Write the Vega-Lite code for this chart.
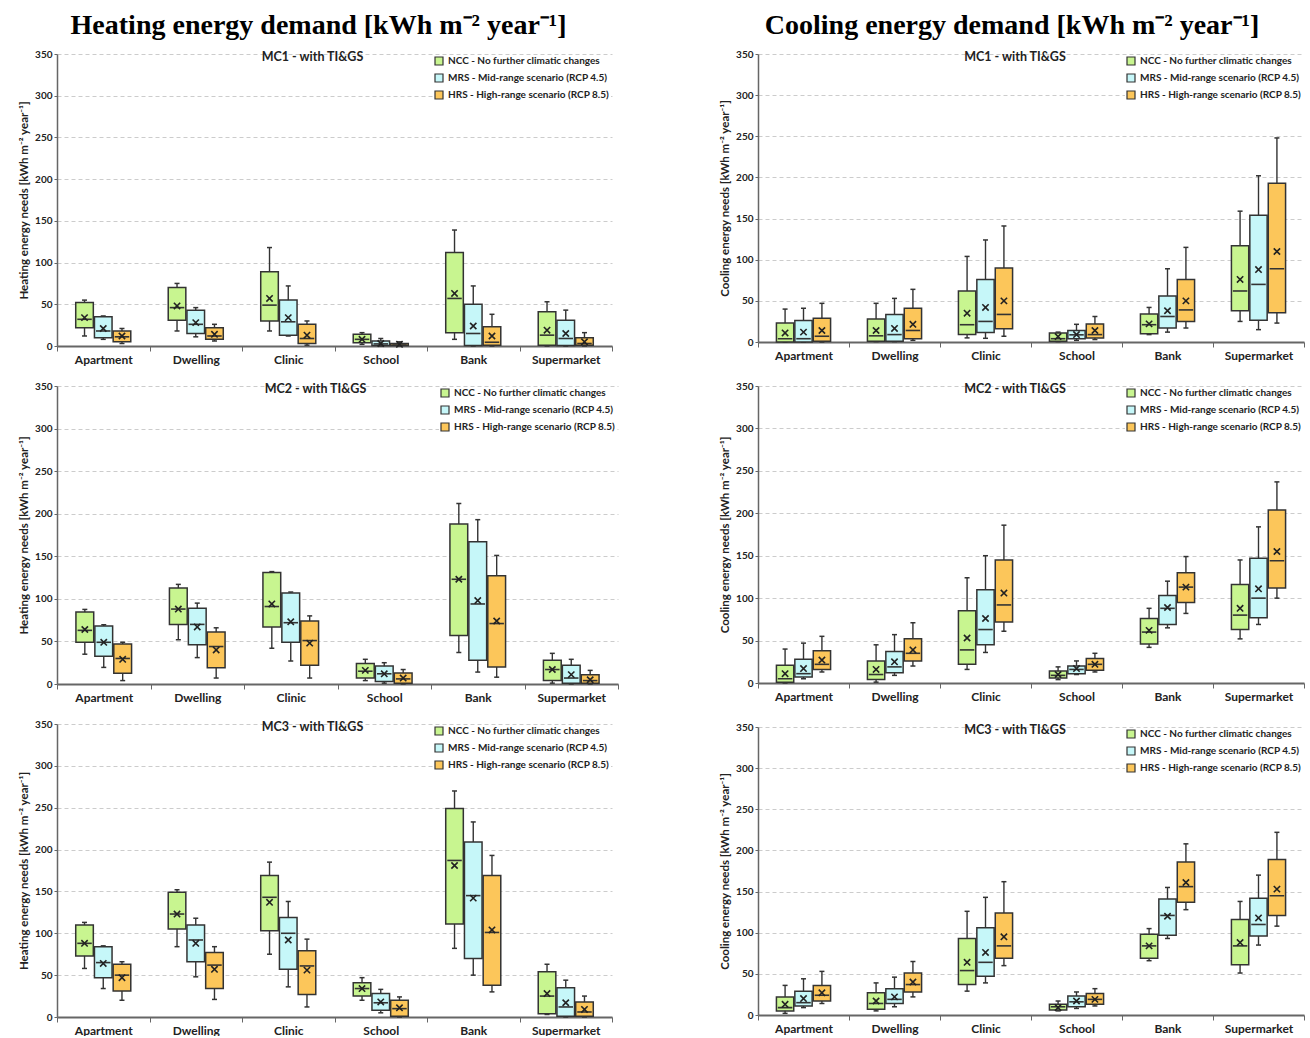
{
  "$schema": "https://vega.github.io/schema/vega-lite/v6.json",
  "background": "white",
  "padding": {"left": 18, "top": 12, "right": 0, "bottom": 0},
  "datasets": {
    "d": [
      {"p":"H1","b":"Apartment","s":"NCC","lo":12,"q1":22,"md":32,"q3":52,"hi":55,"mn":34},
      {"p":"H1","b":"Apartment","s":"MRS","lo":8,"q1":10,"md":18,"q3":35,"hi":36,"mn":21},
      {"p":"H1","b":"Apartment","s":"HRS","lo":3,"q1":5,"md":11,"q3":18,"hi":21,"mn":12},
      {"p":"H1","b":"Dwelling","s":"NCC","lo":18,"q1":31,"md":46,"q3":70,"hi":75,"mn":48},
      {"p":"H1","b":"Dwelling","s":"MRS","lo":11,"q1":15,"md":26,"q3":43,"hi":46,"mn":28},
      {"p":"H1","b":"Dwelling","s":"HRS","lo":6,"q1":8,"md":12,"q3":22,"hi":26,"mn":14},
      {"p":"H1","b":"Clinic","s":"NCC","lo":18,"q1":30,"md":49,"q3":89,"hi":118,"mn":57},
      {"p":"H1","b":"Clinic","s":"MRS","lo":12,"q1":13,"md":29,"q3":55,"hi":72,"mn":34},
      {"p":"H1","b":"Clinic","s":"HRS","lo":1,"q1":3,"md":9,"q3":26,"hi":30,"mn":13},
      {"p":"H1","b":"School","s":"NCC","lo":2,"q1":4,"md":8,"q3":14,"hi":16,"mn":8},
      {"p":"H1","b":"School","s":"MRS","lo":0,"q1":0.5,"md":2.5,"q3":6,"hi":9,"mn":3},
      {"p":"H1","b":"School","s":"HRS","lo":0,"q1":0.5,"md":1.2,"q3":3,"hi":5,"mn":2},
      {"p":"H1","b":"Bank","s":"NCC","lo":8,"q1":16,"md":57,"q3":112,"hi":139,"mn":63},
      {"p":"H1","b":"Bank","s":"MRS","lo":0,"q1":0.5,"md":15,"q3":50,"hi":72,"mn":24},
      {"p":"H1","b":"Bank","s":"HRS","lo":0,"q1":1,"md":4.5,"q3":23,"hi":38,"mn":12},
      {"p":"H1","b":"Supermarket","s":"NCC","lo":0,"q1":1,"md":13,"q3":41,"hi":53,"mn":19},
      {"p":"H1","b":"Supermarket","s":"MRS","lo":0,"q1":0.5,"md":9,"q3":31,"hi":43,"mn":15},
      {"p":"H1","b":"Supermarket","s":"HRS","lo":0,"q1":1,"md":3,"q3":10,"hi":16,"mn":5},

      {"p":"C1","b":"Apartment","s":"NCC","lo":0,"q1":0,"md":4,"q3":23,"hi":40,"mn":11},
      {"p":"C1","b":"Apartment","s":"MRS","lo":0,"q1":0,"md":4,"q3":26,"hi":41,"mn":12},
      {"p":"C1","b":"Apartment","s":"HRS","lo":0,"q1":1,"md":7,"q3":29,"hi":47,"mn":14},
      {"p":"C1","b":"Dwelling","s":"NCC","lo":0.5,"q1":1,"md":7.5,"q3":28,"hi":47,"mn":14},
      {"p":"C1","b":"Dwelling","s":"MRS","lo":0.5,"q1":1,"md":9,"q3":33.5,"hi":53,"mn":16.5},
      {"p":"C1","b":"Dwelling","s":"HRS","lo":2,"q1":4,"md":14,"q3":41,"hi":64,"mn":21.5},
      {"p":"C1","b":"Clinic","s":"NCC","lo":5,"q1":9,"md":21,"q3":62,"hi":104,"mn":35},
      {"p":"C1","b":"Clinic","s":"MRS","lo":4.5,"q1":11.6,"md":25,"q3":76,"hi":124,"mn":42},
      {"p":"C1","b":"Clinic","s":"HRS","lo":7,"q1":16,"md":33.5,"q3":90,"hi":141,"mn":50},
      {"p":"C1","b":"School","s":"NCC","lo":0.5,"q1":1,"md":4,"q3":11,"hi":12,"mn":6.6},
      {"p":"C1","b":"School","s":"MRS","lo":2,"q1":4,"md":8.7,"q3":14,"hi":21.5,"mn":9},
      {"p":"C1","b":"School","s":"HRS","lo":3,"q1":5,"md":9,"q3":22,"hi":31,"mn":14},
      {"p":"C1","b":"Bank","s":"NCC","lo":9,"q1":10,"md":21,"q3":34,"hi":42,"mn":22},
      {"p":"C1","b":"Bank","s":"MRS","lo":12,"q1":17,"md":31,"q3":56,"hi":89,"mn":38},
      {"p":"C1","b":"Bank","s":"HRS","lo":17,"q1":25,"md":39,"q3":76,"hi":115,"mn":50},
      {"p":"C1","b":"Supermarket","s":"NCC","lo":25,"q1":38,"md":62,"q3":117,"hi":159,"mn":76},
      {"p":"C1","b":"Supermarket","s":"MRS","lo":15,"q1":26.5,"md":70,"q3":154,"hi":202,"mn":88},
      {"p":"C1","b":"Supermarket","s":"HRS","lo":23,"q1":35.5,"md":89,"q3":193,"hi":248,"mn":110},

      {"p":"H2","b":"Apartment","s":"NCC","lo":35,"q1":49,"md":63,"q3":84.5,"hi":87.6,"mn":64},
      {"p":"H2","b":"Apartment","s":"MRS","lo":19.5,"q1":32.5,"md":49,"q3":68,"hi":69.6,"mn":49},
      {"p":"H2","b":"Apartment","s":"HRS","lo":4,"q1":12.5,"md":30,"q3":47,"hi":49,"mn":29},
      {"p":"H2","b":"Dwelling","s":"NCC","lo":52,"q1":70,"md":88,"q3":112.7,"hi":117,"mn":88},
      {"p":"H2","b":"Dwelling","s":"MRS","lo":31,"q1":46,"md":70,"q3":89,"hi":95,"mn":67},
      {"p":"H2","b":"Dwelling","s":"HRS","lo":7,"q1":19,"md":44,"q3":61,"hi":66,"mn":40},
      {"p":"H2","b":"Clinic","s":"NCC","lo":42,"q1":67,"md":91,"q3":131,"hi":132,"mn":94},
      {"p":"H2","b":"Clinic","s":"MRS","lo":27,"q1":49,"md":72,"q3":107,"hi":108,"mn":73},
      {"p":"H2","b":"Clinic","s":"HRS","lo":7,"q1":22,"md":51,"q3":74,"hi":80,"mn":48},
      {"p":"H2","b":"School","s":"NCC","lo":4,"q1":7,"md":15,"q3":24,"hi":29,"mn":16},
      {"p":"H2","b":"School","s":"MRS","lo":1,"q1":3,"md":12,"q3":21,"hi":25,"mn":12},
      {"p":"H2","b":"School","s":"HRS","lo":0,"q1":1,"md":6,"q3":13,"hi":17,"mn":7},
      {"p":"H2","b":"Bank","s":"NCC","lo":37,"q1":57,"md":123,"q3":188,"hi":212,"mn":123},
      {"p":"H2","b":"Bank","s":"MRS","lo":14,"q1":28,"md":94,"q3":167,"hi":193,"mn":98},
      {"p":"H2","b":"Bank","s":"HRS","lo":8,"q1":20,"md":71,"q3":127,"hi":151,"mn":74},
      {"p":"H2","b":"Supermarket","s":"NCC","lo":1,"q1":4,"md":17,"q3":28,"hi":36,"mn":17},
      {"p":"H2","b":"Supermarket","s":"MRS","lo":0,"q1":1,"md":7,"q3":22,"hi":29,"mn":11},
      {"p":"H2","b":"Supermarket","s":"HRS","lo":0,"q1":1,"md":4,"q3":11,"hi":16,"mn":5},

      {"p":"C2","b":"Apartment","s":"NCC","lo":0,"q1":1,"md":5,"q3":21,"hi":40,"mn":11},
      {"p":"C2","b":"Apartment","s":"MRS","lo":5,"q1":7,"md":11,"q3":28,"hi":47,"mn":17},
      {"p":"C2","b":"Apartment","s":"HRS","lo":13,"q1":16,"md":22,"q3":38,"hi":55,"mn":27},
      {"p":"C2","b":"Dwelling","s":"NCC","lo":1,"q1":4,"md":10,"q3":26,"hi":45,"mn":16},
      {"p":"C2","b":"Dwelling","s":"MRS","lo":9,"q1":12,"md":19,"q3":37,"hi":57,"mn":25},
      {"p":"C2","b":"Dwelling","s":"HRS","lo":20,"q1":26,"md":35,"q3":52,"hi":71,"mn":39},
      {"p":"C2","b":"Clinic","s":"NCC","lo":16,"q1":22,"md":39,"q3":85,"hi":124,"mn":53},
      {"p":"C2","b":"Clinic","s":"MRS","lo":36,"q1":45,"md":63,"q3":110,"hi":150,"mn":76},
      {"p":"C2","b":"Clinic","s":"HRS","lo":61,"q1":72,"md":92,"q3":145,"hi":186,"mn":106},
      {"p":"C2","b":"School","s":"NCC","lo":4,"q1":6,"md":9,"q3":14,"hi":19,"mn":10},
      {"p":"C2","b":"School","s":"MRS","lo":10,"q1":11,"md":16,"q3":20,"hi":26,"mn":17},
      {"p":"C2","b":"School","s":"HRS","lo":13,"q1":15,"md":22,"q3":29,"hi":35,"mn":22},
      {"p":"C2","b":"Bank","s":"NCC","lo":42,"q1":46,"md":60,"q3":76,"hi":88,"mn":62},
      {"p":"C2","b":"Bank","s":"MRS","lo":65,"q1":69,"md":88,"q3":103,"hi":120,"mn":89},
      {"p":"C2","b":"Bank","s":"HRS","lo":82,"q1":95,"md":113,"q3":130,"hi":149,"mn":113},
      {"p":"C2","b":"Supermarket","s":"NCC","lo":52,"q1":63,"md":80,"q3":116,"hi":145,"mn":88},
      {"p":"C2","b":"Supermarket","s":"MRS","lo":69,"q1":77,"md":100,"q3":147,"hi":184,"mn":111},
      {"p":"C2","b":"Supermarket","s":"HRS","lo":100,"q1":112,"md":144,"q3":204,"hi":237,"mn":155},

      {"p":"H3","b":"Apartment","s":"NCC","lo":58,"q1":73,"md":88,"q3":110,"hi":113,"mn":88},
      {"p":"H3","b":"Apartment","s":"MRS","lo":34,"q1":47,"md":65,"q3":84,"hi":85,"mn":64},
      {"p":"H3","b":"Apartment","s":"HRS","lo":20,"q1":31,"md":50,"q3":63,"hi":66,"mn":47},
      {"p":"H3","b":"Dwelling","s":"NCC","lo":84,"q1":105,"md":123,"q3":149,"hi":152,"mn":123},
      {"p":"H3","b":"Dwelling","s":"MRS","lo":48,"q1":66,"md":92,"q3":110,"hi":118,"mn":88},
      {"p":"H3","b":"Dwelling","s":"HRS","lo":21,"q1":34,"md":62,"q3":77,"hi":84,"mn":57},
      {"p":"H3","b":"Clinic","s":"NCC","lo":75,"q1":103,"md":143,"q3":169,"hi":185,"mn":137},
      {"p":"H3","b":"Clinic","s":"MRS","lo":36,"q1":57,"md":100,"q3":119,"hi":138,"mn":92},
      {"p":"H3","b":"Clinic","s":"HRS","lo":12,"q1":27,"md":61,"q3":79,"hi":93,"mn":56},
      {"p":"H3","b":"School","s":"NCC","lo":20,"q1":25,"md":34,"q3":41,"hi":47,"mn":34},
      {"p":"H3","b":"School","s":"MRS","lo":5,"q1":8,"md":17,"q3":28,"hi":33,"mn":18},
      {"p":"H3","b":"School","s":"HRS","lo":0,"q1":1,"md":10,"q3":20,"hi":24,"mn":11},
      {"p":"H3","b":"Bank","s":"NCC","lo":82,"q1":111,"md":187,"q3":249,"hi":270,"mn":181},
      {"p":"H3","b":"Bank","s":"MRS","lo":50,"q1":70,"md":145,"q3":209,"hi":233,"mn":142},
      {"p":"H3","b":"Bank","s":"HRS","lo":30,"q1":38,"md":101,"q3":169,"hi":193,"mn":104},
      {"p":"H3","b":"Supermarket","s":"NCC","lo":3,"q1":4,"md":25,"q3":54,"hi":63,"mn":28},
      {"p":"H3","b":"Supermarket","s":"MRS","lo":0,"q1":1,"md":12,"q3":35,"hi":44,"mn":17},
      {"p":"H3","b":"Supermarket","s":"HRS","lo":0,"q1":1,"md":6,"q3":18,"hi":25,"mn":9},

      {"p":"C3","b":"Apartment","s":"NCC","lo":2,"q1":5,"md":9,"q3":22,"hi":36,"mn":13},
      {"p":"C3","b":"Apartment","s":"MRS","lo":9,"q1":11,"md":15,"q3":29,"hi":44,"mn":20},
      {"p":"C3","b":"Apartment","s":"HRS","lo":14,"q1":17,"md":24,"q3":36,"hi":53,"mn":27},
      {"p":"C3","b":"Dwelling","s":"NCC","lo":5,"q1":7,"md":14,"q3":27,"hi":39,"mn":17},
      {"p":"C3","b":"Dwelling","s":"MRS","lo":10,"q1":14,"md":19,"q3":32,"hi":46,"mn":22},
      {"p":"C3","b":"Dwelling","s":"HRS","lo":22,"q1":28,"md":37,"q3":51,"hi":65,"mn":40},
      {"p":"C3","b":"Clinic","s":"NCC","lo":29,"q1":37,"md":54,"q3":93,"hi":126,"mn":64},
      {"p":"C3","b":"Clinic","s":"MRS","lo":39,"q1":47,"md":64,"q3":106,"hi":143,"mn":76},
      {"p":"C3","b":"Clinic","s":"HRS","lo":60,"q1":69,"md":84,"q3":124,"hi":162,"mn":95},
      {"p":"C3","b":"School","s":"NCC","lo":5,"q1":6,"md":10,"q3":13,"hi":17,"mn":9},
      {"p":"C3","b":"School","s":"MRS","lo":8,"q1":10,"md":16,"q3":23,"hi":28,"mn":17},
      {"p":"C3","b":"School","s":"HRS","lo":11,"q1":13,"md":19,"q3":26,"hi":32,"mn":19},
      {"p":"C3","b":"Bank","s":"NCC","lo":66,"q1":69,"md":84,"q3":98,"hi":105,"mn":84},
      {"p":"C3","b":"Bank","s":"MRS","lo":93,"q1":97,"md":121,"q3":141,"hi":155,"mn":120},
      {"p":"C3","b":"Bank","s":"HRS","lo":128,"q1":137,"md":156,"q3":186,"hi":208,"mn":161},
      {"p":"C3","b":"Supermarket","s":"NCC","lo":51,"q1":61,"md":84,"q3":116,"hi":138,"mn":88},
      {"p":"C3","b":"Supermarket","s":"MRS","lo":85,"q1":96,"md":110,"q3":142,"hi":170,"mn":118},
      {"p":"C3","b":"Supermarket","s":"HRS","lo":108,"q1":121,"md":145,"q3":189,"hi":222,"mn":153}
    ]
  },
  "data": {"name": "d"},
  "config": {
    "view": {"stroke": null},
    "axis": {"labelFont": "Lato", "labelFontWeight": "bold", "labelColor": "#222", "titleFont": "Lato", "titleFontWeight": "bold", "titleColor": "#222", "domainColor": "#666", "tickColor": "#666", "gridColor": "#cccccc", "gridDash": [4, 3]},
    "axisY": {"labelFontSize": 10, "titleFontSize": 11.5, "tickSize": 3, "labelPadding": 2, "titlePadding": 5, "domainWidth": 1.5},
    "axisX": {"labelFontSize": 12, "tickSize": 5, "labelPadding": 3, "domainWidth": 2, "grid": false, "labelAngle": 0},
    "title": {"font": "Lato", "fontSize": 12.5, "fontWeight": "bold", "color": "#222", "anchor": "middle"},
    "tick": {"opacity": 1},
    "legend": {"orient": "top-right", "offset": 1, "padding": 1, "fillColor": "white", "labelFont": "Lato", "labelFontSize": 10, "labelFontWeight": "bold", "labelColor": "#222", "labelLimit": 260, "symbolType": "square", "symbolSize": 64, "symbolStrokeColor": "#333", "symbolStrokeWidth": 1.2, "rowPadding": 3}
  },
  "spacing": 100,
  "resolve": {"scale": {"fill": "independent", "x": "independent", "y": "independent", "xOffset": "independent"}, "legend": {"fill": "independent"}},
  "hconcat": [
    {
      "title": {"text": "Heating energy demand [kWh m⁻² year⁻¹]", "font": "Liberation Serif", "fontSize": 28, "fontWeight": "bold", "color": "#000", "anchor": "middle", "frame": "bounds", "offset": 9},
      "spacing": 40,
      "bounds": "flush",
      "resolve": {"scale": {"fill": "independent", "x": "independent", "y": "independent", "xOffset": "independent"}, "legend": {"fill": "independent"}},
      "vconcat": [
        {
          "width": 555, "height": 292,
          "title": {"text": "MC1 - with TI&GS", "dx": -22, "offset": -14},
          "transform": [{"filter": "datum.p === 'H1'"}],
          "encoding": {
            "x": {"field": "b", "type": "nominal", "sort": ["Apartment","Dwelling","Clinic","School","Bank","Supermarket"], "title": null, "scale": {"paddingInner": 0, "paddingOuter": 0}, "axis": {"tickBand": "extent"}},
            "xOffset": {"field": "s", "type": "nominal", "sort": ["NCC","MRS","HRS"], "scale": {"paddingInner": 0.06, "paddingOuter": 1.5}}
          },
          "layer": [
            {"mark": {"type": "rule", "color": "#333", "strokeWidth": 1.4}, "encoding": {"y": {"field": "lo", "type": "quantitative", "scale": {"domain": [0, 350]}, "axis": {"title": "Heating energy needs [kWh m⁻² year⁻¹]", "values": [0,50,100,150,200,250,300,350]}}, "y2": {"field": "hi"}}},
            {"mark": {"type": "tick", "color": "#333", "size": 5, "thickness": 1.5, "opacity": 1}, "encoding": {"y": {"field": "lo", "type": "quantitative"}}},
            {"mark": {"type": "tick", "color": "#333", "size": 5, "thickness": 1.5, "opacity": 1}, "encoding": {"y": {"field": "hi", "type": "quantitative"}}},
            {"mark": {"type": "bar", "stroke": "#333", "strokeWidth": 1.5, "opacity": 1}, "encoding": {"y": {"field": "q1", "type": "quantitative"}, "y2": {"field": "q3"}, "fill": {"field": "s", "type": "nominal", "scale": {"domain": ["NCC","MRS","HRS"], "range": ["#c8f590","#c6f7f9","#fcc65a"]}, "legend": {"title": null, "labelExpr": "datum.label == 'NCC' ? 'NCC - No further climatic changes' : datum.label == 'MRS' ? 'MRS - Mid-range scenario (RCP 4.5)' : 'HRS - High-range scenario (RCP 8.5)'"}}}},
            {"mark": {"type": "tick", "color": "#333", "size": 14.5, "thickness": 1.6, "opacity": 1}, "encoding": {"y": {"field": "md", "type": "quantitative"}}},
            {"mark": {"type": "point", "shape": "M-1,-1L1,1M-1,1L1,-1", "filled": false, "color": "#222", "strokeWidth": 1.6, "size": 40, "opacity": 1}, "encoding": {"y": {"field": "mn", "type": "quantitative"}}}
          ]
        },
        {
          "width": 561, "height": 298,
          "title": {"text": "MC2 - with TI&GS", "dx": -22, "offset": -14},
          "transform": [{"filter": "datum.p === 'H2'"}],
          "encoding": {
            "x": {"field": "b", "type": "nominal", "sort": ["Apartment","Dwelling","Clinic","School","Bank","Supermarket"], "title": null, "scale": {"paddingInner": 0, "paddingOuter": 0}, "axis": {"tickBand": "extent"}},
            "xOffset": {"field": "s", "type": "nominal", "sort": ["NCC","MRS","HRS"], "scale": {"paddingInner": 0.06, "paddingOuter": 1.5}}
          },
          "layer": [
            {"mark": {"type": "rule", "color": "#333", "strokeWidth": 1.4}, "encoding": {"y": {"field": "lo", "type": "quantitative", "scale": {"domain": [0, 350]}, "axis": {"title": "Heating energy needs [kWh m⁻² year⁻¹]", "values": [0,50,100,150,200,250,300,350]}}, "y2": {"field": "hi"}}},
            {"mark": {"type": "tick", "color": "#333", "size": 5, "thickness": 1.5, "opacity": 1}, "encoding": {"y": {"field": "lo", "type": "quantitative"}}},
            {"mark": {"type": "tick", "color": "#333", "size": 5, "thickness": 1.5, "opacity": 1}, "encoding": {"y": {"field": "hi", "type": "quantitative"}}},
            {"mark": {"type": "bar", "stroke": "#333", "strokeWidth": 1.5, "opacity": 1}, "encoding": {"y": {"field": "q1", "type": "quantitative"}, "y2": {"field": "q3"}, "fill": {"field": "s", "type": "nominal", "scale": {"domain": ["NCC","MRS","HRS"], "range": ["#c8f590","#c6f7f9","#fcc65a"]}, "legend": {"title": null, "labelExpr": "datum.label == 'NCC' ? 'NCC - No further climatic changes' : datum.label == 'MRS' ? 'MRS - Mid-range scenario (RCP 4.5)' : 'HRS - High-range scenario (RCP 8.5)'"}}}},
            {"mark": {"type": "tick", "color": "#333", "size": 14.5, "thickness": 1.6, "opacity": 1}, "encoding": {"y": {"field": "md", "type": "quantitative"}}},
            {"mark": {"type": "point", "shape": "M-1,-1L1,1M-1,1L1,-1", "filled": false, "color": "#222", "strokeWidth": 1.6, "size": 40, "opacity": 1}, "encoding": {"y": {"field": "mn", "type": "quantitative"}}}
          ]
        },
        {
          "width": 555, "height": 293,
          "title": {"text": "MC3 - with TI&GS", "dx": -22, "offset": -14},
          "transform": [{"filter": "datum.p === 'H3'"}],
          "encoding": {
            "x": {"field": "b", "type": "nominal", "sort": ["Apartment","Dwelling","Clinic","School","Bank","Supermarket"], "title": null, "scale": {"paddingInner": 0, "paddingOuter": 0}, "axis": {"tickBand": "extent"}},
            "xOffset": {"field": "s", "type": "nominal", "sort": ["NCC","MRS","HRS"], "scale": {"paddingInner": 0.06, "paddingOuter": 1.5}}
          },
          "layer": [
            {"mark": {"type": "rule", "color": "#333", "strokeWidth": 1.4}, "encoding": {"y": {"field": "lo", "type": "quantitative", "scale": {"domain": [0, 350]}, "axis": {"title": "Heating energy needs [kWh m⁻² year⁻¹]", "values": [0,50,100,150,200,250,300,350]}}, "y2": {"field": "hi"}}},
            {"mark": {"type": "tick", "color": "#333", "size": 5, "thickness": 1.5, "opacity": 1}, "encoding": {"y": {"field": "lo", "type": "quantitative"}}},
            {"mark": {"type": "tick", "color": "#333", "size": 5, "thickness": 1.5, "opacity": 1}, "encoding": {"y": {"field": "hi", "type": "quantitative"}}},
            {"mark": {"type": "bar", "stroke": "#333", "strokeWidth": 1.5, "opacity": 1}, "encoding": {"y": {"field": "q1", "type": "quantitative"}, "y2": {"field": "q3"}, "fill": {"field": "s", "type": "nominal", "scale": {"domain": ["NCC","MRS","HRS"], "range": ["#c8f590","#c6f7f9","#fcc65a"]}, "legend": {"title": null, "labelExpr": "datum.label == 'NCC' ? 'NCC - No further climatic changes' : datum.label == 'MRS' ? 'MRS - Mid-range scenario (RCP 4.5)' : 'HRS - High-range scenario (RCP 8.5)'"}}}},
            {"mark": {"type": "tick", "color": "#333", "size": 14.5, "thickness": 1.6, "opacity": 1}, "encoding": {"y": {"field": "md", "type": "quantitative"}}},
            {"mark": {"type": "point", "shape": "M-1,-1L1,1M-1,1L1,-1", "filled": false, "color": "#222", "strokeWidth": 1.6, "size": 40, "opacity": 1}, "encoding": {"y": {"field": "mn", "type": "quantitative"}}}
          ]
        }
      ]
    },
    {
      "title": {"text": "Cooling energy demand [kWh m⁻² year⁻¹]", "font": "Liberation Serif", "fontSize": 28, "fontWeight": "bold", "color": "#000", "anchor": "middle", "frame": "bounds", "offset": 9},
      "spacing": 44,
      "bounds": "flush",
      "resolve": {"scale": {"fill": "independent", "x": "independent", "y": "independent", "xOffset": "independent"}, "legend": {"fill": "independent"}},
      "vconcat": [
        {
          "width": 546, "height": 288,
          "title": {"text": "MC1 - with TI&GS", "dx": -16, "offset": -14},
          "transform": [{"filter": "datum.p === 'C1'"}],
          "encoding": {
            "x": {"field": "b", "type": "nominal", "sort": ["Apartment","Dwelling","Clinic","School","Bank","Supermarket"], "title": null, "scale": {"paddingInner": 0, "paddingOuter": 0}, "axis": {"tickBand": "extent"}},
            "xOffset": {"field": "s", "type": "nominal", "sort": ["NCC","MRS","HRS"], "scale": {"paddingInner": 0.06, "paddingOuter": 1.5}}
          },
          "layer": [
            {"mark": {"type": "rule", "color": "#333", "strokeWidth": 1.4}, "encoding": {"y": {"field": "lo", "type": "quantitative", "scale": {"domain": [0, 350]}, "axis": {"title": "Cooling energy needs [kWh m⁻² year⁻¹]", "values": [0,50,100,150,200,250,300,350]}}, "y2": {"field": "hi"}}},
            {"mark": {"type": "tick", "color": "#333", "size": 5, "thickness": 1.5, "opacity": 1}, "encoding": {"y": {"field": "lo", "type": "quantitative"}}},
            {"mark": {"type": "tick", "color": "#333", "size": 5, "thickness": 1.5, "opacity": 1}, "encoding": {"y": {"field": "hi", "type": "quantitative"}}},
            {"mark": {"type": "bar", "stroke": "#333", "strokeWidth": 1.5, "opacity": 1}, "encoding": {"y": {"field": "q1", "type": "quantitative"}, "y2": {"field": "q3"}, "fill": {"field": "s", "type": "nominal", "scale": {"domain": ["NCC","MRS","HRS"], "range": ["#c8f590","#c6f7f9","#fcc65a"]}, "legend": {"title": null, "labelExpr": "datum.label == 'NCC' ? 'NCC - No further climatic changes' : datum.label == 'MRS' ? 'MRS - Mid-range scenario (RCP 4.5)' : 'HRS - High-range scenario (RCP 8.5)'"}}}},
            {"mark": {"type": "tick", "color": "#333", "size": 14.5, "thickness": 1.6, "opacity": 1}, "encoding": {"y": {"field": "md", "type": "quantitative"}}},
            {"mark": {"type": "point", "shape": "M-1,-1L1,1M-1,1L1,-1", "filled": false, "color": "#222", "strokeWidth": 1.6, "size": 40, "opacity": 1}, "encoding": {"y": {"field": "mn", "type": "quantitative"}}}
          ]
        },
        {
          "width": 546, "height": 297,
          "title": {"text": "MC2 - with TI&GS", "dx": -16, "offset": -14},
          "transform": [{"filter": "datum.p === 'C2'"}],
          "encoding": {
            "x": {"field": "b", "type": "nominal", "sort": ["Apartment","Dwelling","Clinic","School","Bank","Supermarket"], "title": null, "scale": {"paddingInner": 0, "paddingOuter": 0}, "axis": {"tickBand": "extent"}},
            "xOffset": {"field": "s", "type": "nominal", "sort": ["NCC","MRS","HRS"], "scale": {"paddingInner": 0.06, "paddingOuter": 1.5}}
          },
          "layer": [
            {"mark": {"type": "rule", "color": "#333", "strokeWidth": 1.4}, "encoding": {"y": {"field": "lo", "type": "quantitative", "scale": {"domain": [0, 350]}, "axis": {"title": "Cooling energy needs [kWh m⁻² year⁻¹]", "values": [0,50,100,150,200,250,300,350]}}, "y2": {"field": "hi"}}},
            {"mark": {"type": "tick", "color": "#333", "size": 5, "thickness": 1.5, "opacity": 1}, "encoding": {"y": {"field": "lo", "type": "quantitative"}}},
            {"mark": {"type": "tick", "color": "#333", "size": 5, "thickness": 1.5, "opacity": 1}, "encoding": {"y": {"field": "hi", "type": "quantitative"}}},
            {"mark": {"type": "bar", "stroke": "#333", "strokeWidth": 1.5, "opacity": 1}, "encoding": {"y": {"field": "q1", "type": "quantitative"}, "y2": {"field": "q3"}, "fill": {"field": "s", "type": "nominal", "scale": {"domain": ["NCC","MRS","HRS"], "range": ["#c8f590","#c6f7f9","#fcc65a"]}, "legend": {"title": null, "labelExpr": "datum.label == 'NCC' ? 'NCC - No further climatic changes' : datum.label == 'MRS' ? 'MRS - Mid-range scenario (RCP 4.5)' : 'HRS - High-range scenario (RCP 8.5)'"}}}},
            {"mark": {"type": "tick", "color": "#333", "size": 14.5, "thickness": 1.6, "opacity": 1}, "encoding": {"y": {"field": "md", "type": "quantitative"}}},
            {"mark": {"type": "point", "shape": "M-1,-1L1,1M-1,1L1,-1", "filled": false, "color": "#222", "strokeWidth": 1.6, "size": 40, "opacity": 1}, "encoding": {"y": {"field": "mn", "type": "quantitative"}}}
          ]
        },
        {
          "width": 546, "height": 288,
          "title": {"text": "MC3 - with TI&GS", "dx": -16, "offset": -14},
          "transform": [{"filter": "datum.p === 'C3'"}],
          "encoding": {
            "x": {"field": "b", "type": "nominal", "sort": ["Apartment","Dwelling","Clinic","School","Bank","Supermarket"], "title": null, "scale": {"paddingInner": 0, "paddingOuter": 0}, "axis": {"tickBand": "extent"}},
            "xOffset": {"field": "s", "type": "nominal", "sort": ["NCC","MRS","HRS"], "scale": {"paddingInner": 0.06, "paddingOuter": 1.5}}
          },
          "layer": [
            {"mark": {"type": "rule", "color": "#333", "strokeWidth": 1.4}, "encoding": {"y": {"field": "lo", "type": "quantitative", "scale": {"domain": [0, 350]}, "axis": {"title": "Cooling energy needs [kWh m⁻² year⁻¹]", "values": [0,50,100,150,200,250,300,350]}}, "y2": {"field": "hi"}}},
            {"mark": {"type": "tick", "color": "#333", "size": 5, "thickness": 1.5, "opacity": 1}, "encoding": {"y": {"field": "lo", "type": "quantitative"}}},
            {"mark": {"type": "tick", "color": "#333", "size": 5, "thickness": 1.5, "opacity": 1}, "encoding": {"y": {"field": "hi", "type": "quantitative"}}},
            {"mark": {"type": "bar", "stroke": "#333", "strokeWidth": 1.5, "opacity": 1}, "encoding": {"y": {"field": "q1", "type": "quantitative"}, "y2": {"field": "q3"}, "fill": {"field": "s", "type": "nominal", "scale": {"domain": ["NCC","MRS","HRS"], "range": ["#c8f590","#c6f7f9","#fcc65a"]}, "legend": {"title": null, "labelExpr": "datum.label == 'NCC' ? 'NCC - No further climatic changes' : datum.label == 'MRS' ? 'MRS - Mid-range scenario (RCP 4.5)' : 'HRS - High-range scenario (RCP 8.5)'"}}}},
            {"mark": {"type": "tick", "color": "#333", "size": 14.5, "thickness": 1.6, "opacity": 1}, "encoding": {"y": {"field": "md", "type": "quantitative"}}},
            {"mark": {"type": "point", "shape": "M-1,-1L1,1M-1,1L1,-1", "filled": false, "color": "#222", "strokeWidth": 1.6, "size": 40, "opacity": 1}, "encoding": {"y": {"field": "mn", "type": "quantitative"}}}
          ]
        }
      ]
    }
  ]
}
